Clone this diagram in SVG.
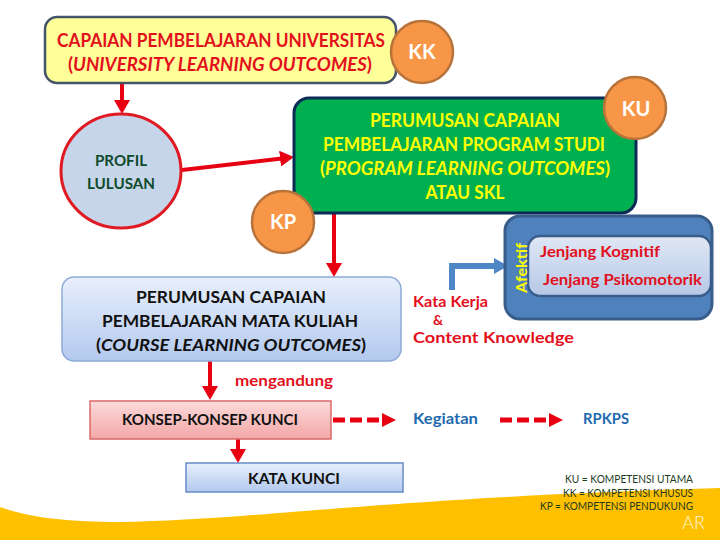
<svg xmlns="http://www.w3.org/2000/svg" width="720" height="540" viewBox="0 0 720 540">
<style>
text{font-family:Lato,"Liberation Sans",sans-serif;font-weight:bold}
.red{fill:#E2101C}
.c{text-anchor:middle}
.conn{fill:none;stroke:#E60012;stroke-width:4}
.dash{fill:none;stroke:#E60012;stroke-width:5;stroke-dasharray:12 5}
.badge{fill:#F79646;stroke:#B8733A;stroke-width:2.5}
.btxt{fill:#FFFFFF;font-size:20px;text-anchor:middle}
.yl{fill:#FFFF00;font-size:18px}
.blk{fill:#111111;font-size:17px}
.leg{fill:#1E3B1E;font-weight:normal;font-size:11px;text-anchor:end}
.blue{fill:#1F6AAE;font-size:16px}
</style>
<defs>
<marker id="ah" markerUnits="userSpaceOnUse" markerWidth="14" markerHeight="16" refX="8" refY="8" orient="auto"><path d="M0,0 L14,8 L0,16 Z" fill="#E60012"/></marker>
<marker id="ahd" markerUnits="userSpaceOnUse" markerWidth="14" markerHeight="14" refX="7" refY="7" orient="auto"><path d="M0,0 L14,7 L0,14 Z" fill="#E60012"/></marker>
<marker id="ahb" markerUnits="userSpaceOnUse" markerWidth="14" markerHeight="16" refX="7" refY="8" orient="auto"><path d="M0,0 L14,8 L0,16 Z" fill="#4F86C6"/></marker>
<linearGradient id="gBlue" x1="0" y1="0" x2="0" y2="1"><stop offset="0" stop-color="#E8EFFB"/><stop offset="1" stop-color="#B3C9EF"/></linearGradient>
<linearGradient id="gPink" x1="0" y1="0" x2="0" y2="1"><stop offset="0" stop-color="#FCDADA"/><stop offset="1" stop-color="#F3A7A7"/></linearGradient>
<linearGradient id="gInner" x1="0" y1="0" x2="0" y2="1"><stop offset="0" stop-color="#DFE7F4"/><stop offset="1" stop-color="#B6C8E7"/></linearGradient>
</defs>

<rect width="720" height="540" fill="#FFFFFF"/>
<path d="M0,507 C30,518 70,522 120,522 C250,520 400,497 720,488 L720,540 L0,540 Z" fill="#FFC000"/>

<g id="connectors">
<line class="conn" x1="122" y1="84" x2="122" y2="108" marker-end="url(#ah)"/>
<line class="conn" x1="182" y1="170" x2="288" y2="157.7" marker-end="url(#ah)"/>
<line class="conn" x1="334" y1="213" x2="334" y2="271" marker-end="url(#ah)"/>
<line class="conn" x1="210" y1="361" x2="210" y2="394" marker-end="url(#ah)"/>
<line class="conn" x1="238" y1="439" x2="238" y2="457" marker-end="url(#ah)"/>
<line class="dash" x1="333" y1="420" x2="389" y2="420" marker-end="url(#ahd)"/>
<line class="dash" x1="500" y1="420" x2="556" y2="420" marker-end="url(#ahd)"/>
<path d="M452,290 V266 H501" fill="none" stroke="#4F86C6" stroke-width="6" marker-end="url(#ahb)"/>
</g>

<g id="ulo">
<rect x="45" y="17" width="351" height="66" rx="12" fill="#FFFF99" stroke="#44546A" stroke-width="2.5"/>
<text class="red c" x="221" y="47" font-size="18" textLength="328" lengthAdjust="spacingAndGlyphs">CAPAIAN PEMBELAJARAN UNIVERSITAS</text>
<text class="red c" x="220" y="71" font-size="18" textLength="304" lengthAdjust="spacingAndGlyphs">(<tspan font-style="italic">UNIVERSITY LEARNING OUTCOMES</tspan>)</text>
</g>

<g id="kk">
<circle class="badge" cx="422" cy="52" r="31"/>
<text class="btxt" x="422" y="59">KK</text>
</g>

<g id="profil">
<ellipse cx="121" cy="171" rx="60" ry="57" fill="#C6D5EA" stroke="#E01A22" stroke-width="3"/>
<text class="c" x="121" y="166" font-size="15" fill="#0E4A2A" textLength="52" lengthAdjust="spacingAndGlyphs">PROFIL</text>
<text class="c" x="121" y="189" font-size="15" fill="#0E4A2A" textLength="68" lengthAdjust="spacingAndGlyphs">LULUSAN</text>
</g>

<g id="plo">
<rect x="294" y="98" width="342" height="115" rx="15" fill="#00B050" stroke="#0B2A55" stroke-width="3"/>
<text class="yl c" x="465" y="127" textLength="190" lengthAdjust="spacingAndGlyphs">PERUMUSAN CAPAIAN</text>
<text class="yl c" x="464" y="151" textLength="282" lengthAdjust="spacingAndGlyphs">PEMBELAJARAN PROGRAM STUDI</text>
<text class="yl c" x="465" y="175" textLength="290" lengthAdjust="spacingAndGlyphs">(<tspan font-style="italic">PROGRAM LEARNING OUTCOMES</tspan>)</text>
<text class="yl c" x="465" y="199" textLength="79" lengthAdjust="spacingAndGlyphs">ATAU SKL</text>
</g>

<g id="ku">
<circle class="badge" cx="635" cy="108" r="31"/>
<text class="btxt" x="636" y="116">KU</text>
</g>

<g id="kp">
<circle class="badge" cx="283" cy="222" r="31"/>
<text class="btxt" x="283" y="229">KP</text>
</g>

<g id="clo">
<rect x="62" y="277" width="339" height="84" rx="12" fill="url(#gBlue)" stroke="#8EA9D8" stroke-width="1.5"/>
<text class="blk c" x="231" y="303" textLength="190" lengthAdjust="spacingAndGlyphs">PERUMUSAN CAPAIAN</text>
<text class="blk c" x="230" y="327" textLength="256" lengthAdjust="spacingAndGlyphs">PEMBELAJARAN MATA KULIAH</text>
<text class="blk c" x="231" y="351" textLength="270" lengthAdjust="spacingAndGlyphs">(<tspan font-style="italic">COURSE LEARNING OUTCOMES</tspan>)</text>
</g>

<g id="afektif">
<rect x="505" y="216" width="207" height="103" rx="15" fill="#4F81BD" stroke="#385D8A" stroke-width="3"/>
<rect x="528" y="236" width="183" height="60" rx="12" fill="url(#gInner)" stroke="#385D8A" stroke-width="2.5"/>
<text x="0" y="0" transform="translate(527,293) rotate(-90)" font-size="15" fill="#FFFF00" textLength="50" lengthAdjust="spacingAndGlyphs">Afektif</text>
<text class="red" x="540" y="257" font-size="15" textLength="120" lengthAdjust="spacingAndGlyphs">Jenjang Kognitif</text>
<text class="red" x="543" y="285" font-size="15" textLength="159" lengthAdjust="spacingAndGlyphs">Jenjang Psikomotorik</text>
</g>

<g id="katakerja">
<text class="red" x="413" y="307" font-size="15" textLength="75" lengthAdjust="spacingAndGlyphs">Kata Kerja</text>
<text class="red" x="433" y="325" font-size="14">&amp;</text>
<text class="red" x="413" y="343" font-size="16" textLength="161" lengthAdjust="spacingAndGlyphs">Content Knowledge</text>
</g>

<g id="mengandung">
<text class="red" x="235" y="386" font-size="15" textLength="98" lengthAdjust="spacingAndGlyphs">mengandung</text>
</g>

<g id="konsep">
<rect x="90" y="401" width="241" height="38" fill="url(#gPink)" stroke="#D9696A" stroke-width="1.5"/>
<text class="c" x="210" y="425" font-size="15" fill="#111111" textLength="176" lengthAdjust="spacingAndGlyphs">KONSEP-KONSEP KUNCI</text>
</g>

<g id="kegiatan">
<text class="blue" x="413" y="424" textLength="65" lengthAdjust="spacingAndGlyphs">Kegiatan</text>
</g>

<g id="rpkps">
<text class="blue" x="583" y="424" textLength="46" lengthAdjust="spacingAndGlyphs">RPKPS</text>
</g>

<g id="katakunci">
<rect x="186" y="463" width="217" height="29" fill="url(#gBlue)" stroke="#6A8CC8" stroke-width="1.5"/>
<text class="c" x="294" y="484" font-size="15" fill="#111111" textLength="92" lengthAdjust="spacingAndGlyphs">KATA KUNCI</text>
</g>

<g id="legend">
<text class="leg" x="693" y="483" textLength="128" lengthAdjust="spacingAndGlyphs">KU = KOMPETENSI UTAMA</text>
<text class="leg" x="693" y="497" textLength="130" lengthAdjust="spacingAndGlyphs">KK = KOMPETENSI KHUSUS</text>
<text class="leg" x="693" y="510" textLength="153" lengthAdjust="spacingAndGlyphs">KP = KOMPETENSI PENDUKUNG</text>
<text x="705" y="529" font-size="18" fill="#FFF6D8" text-anchor="end" style="font-weight:300">AR</text>
</g>
</svg>
